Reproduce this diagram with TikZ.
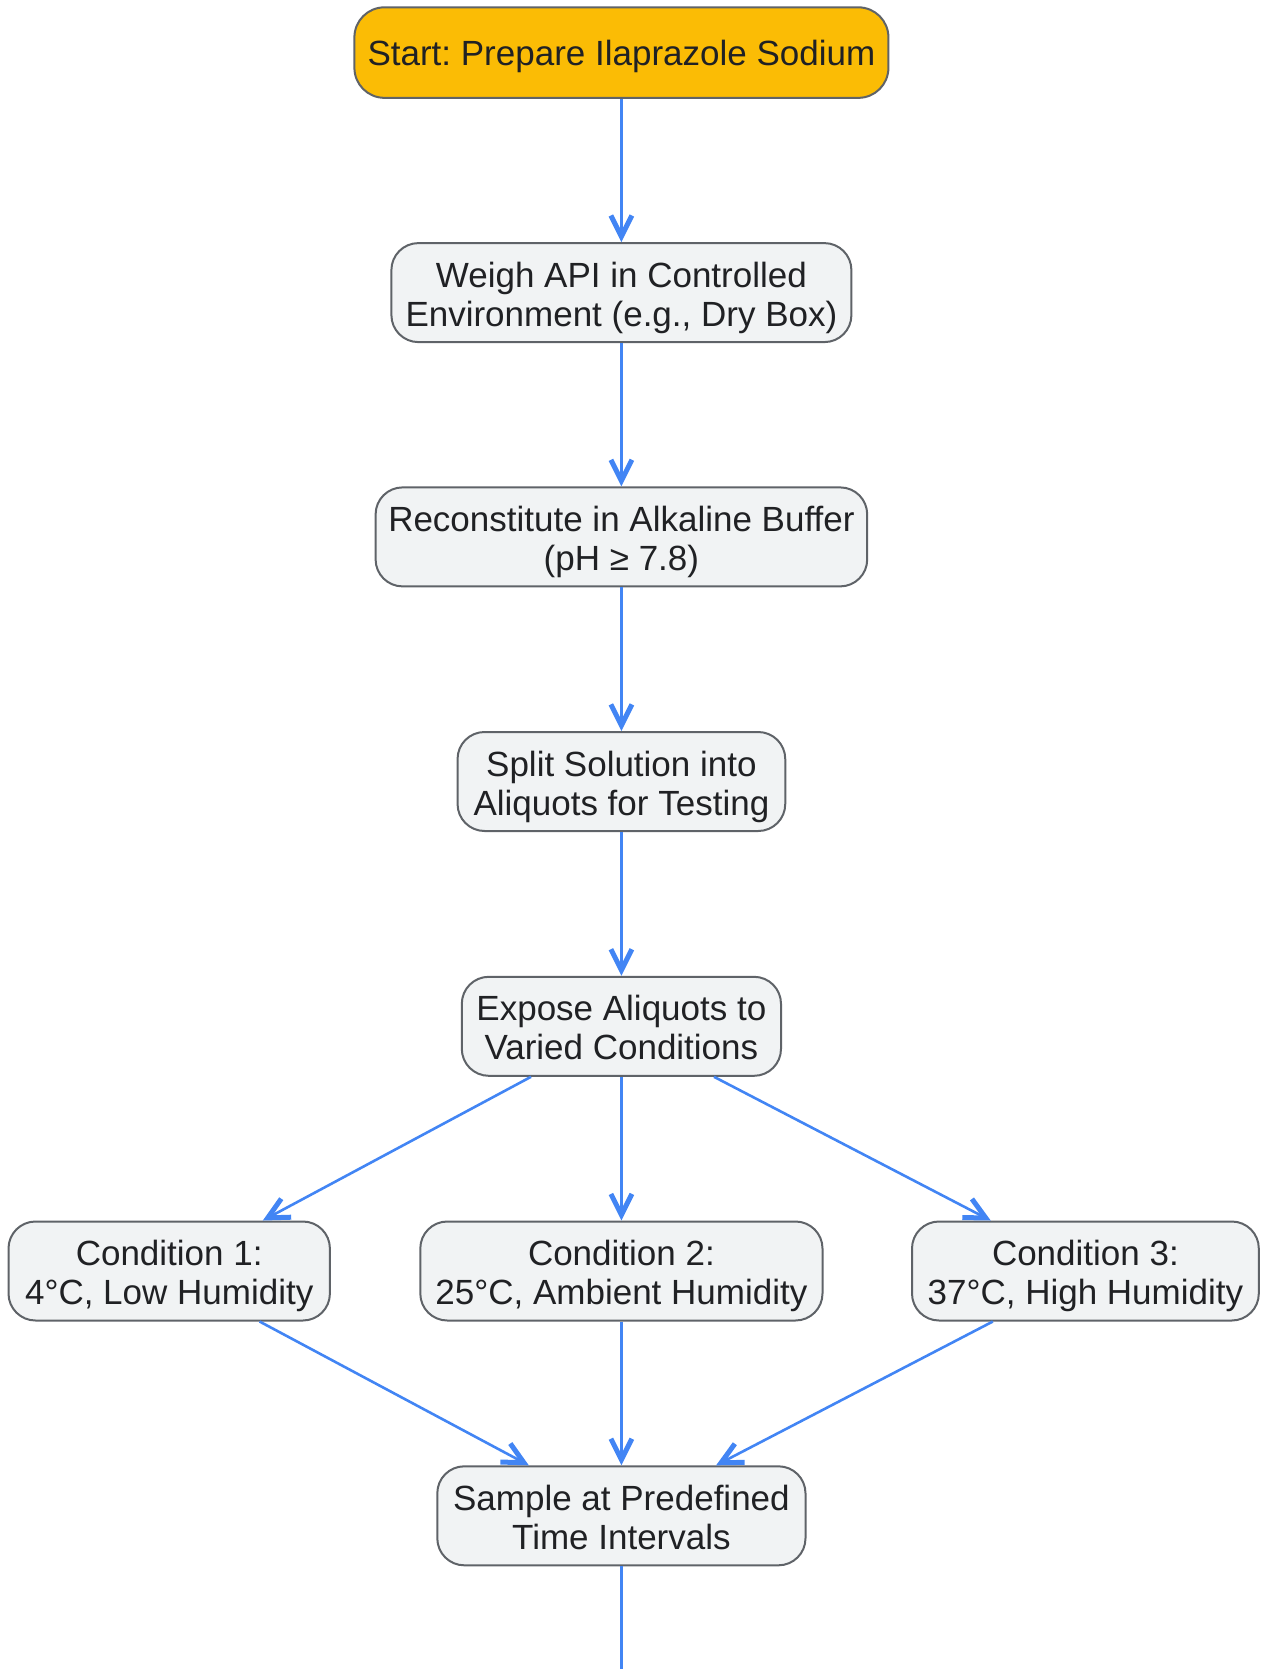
\documentclass[tikz,border=0pt]{standalone}
\usepackage{fontspec}
\setmainfont{Liberation Sans}
\usetikzlibrary{arrows.meta}
\definecolor{startfill}{HTML}{FBBC05}
\definecolor{boxfill}{HTML}{F1F3F4}
\definecolor{boxline}{HTML}{5F6368}
\definecolor{arrowc}{HTML}{4285F4}
\definecolor{txt}{HTML}{202124}
\frenchspacing
\begin{document}
\begin{tikzpicture}[x=1pt,y=-1pt,
 box/.style={draw=boxline, line width=2pt, fill=boxfill, rounded corners=27pt, align=center, text=txt,
   font=\fontsize{35}{39}\selectfont, inner sep=0pt, minimum height=99pt, text height=67pt, text depth=0pt},
 startbox/.style={box, fill=startfill, minimum height=90.5pt, rounded corners=30pt, text height=25pt},
 conn/.style={draw=arrowc, line width=2.6pt, -{Straight Barb[length=21pt,width=21pt,line width=5pt]}},
 plainline/.style={draw=arrowc, line width=2.6pt}
]
\useasboundingbox (0,0) rectangle (1262,1669);
\node[startbox, minimum width=534pt] (start) at (621.4,52.6) {Start: Prepare Ilaprazole Sodium};
\node[box, minimum width=460pt] (weigh) at (621.4,292.6) {Weigh API in Controlled\\Environment (e.g., Dry Box)};
\node[box, minimum width=491.6pt] (recon) at (621.4,536.9) {Reconstitute in Alkaline Buffer\\(pH ≥ 7.8)};
\node[box, minimum width=327.7pt] (split) at (621.4,781.5) {Split Solution into\\Aliquots for Testing};
\node[box, minimum width=319.2pt] (expose) at (621.4,1026.3) {Expose Aliquots to\\Varied Conditions};
\node[box, minimum width=321.4pt] (c1) at (169.2,1271) {Condition 1:\\4°C, Low Humidity};
\node[box, minimum width=402.2pt] (c2) at (621.4,1271) {Condition 2:\\25°C, Ambient Humidity};
\node[box, minimum width=346.8pt] (c3) at (1085.4,1271) {Condition 3:\\37°C, High Humidity};
\node[box, minimum width=368.2pt] (sample) at (621.4,1515.8) {Sample at Predefined\\Time Intervals};
\coordinate (bottomend) at (621.4,1669);

\draw[conn] (start) -- (weigh);
\draw[conn] (weigh) -- (recon);
\draw[conn] (recon) -- (split);
\draw[conn] (split) -- (expose);
\draw[conn] ([xshift=-90.4pt]expose.south) -- ([xshift=93.6pt]c1.north);
\draw[conn] (expose) -- (c2);
\draw[conn] ([xshift=92.6pt]expose.south) -- ([xshift=-94.7pt]c3.north);
\draw[conn] ([xshift=90.4pt]c1.south) -- ([xshift=-92.6pt]sample.north);
\draw[conn] (c2) -- (sample);
\draw[conn] ([xshift=-92.6pt]c3.south) -- ([xshift=94.7pt]sample.north);
\draw[plainline] (sample) -- (bottomend);
\end{tikzpicture}
\end{document}
